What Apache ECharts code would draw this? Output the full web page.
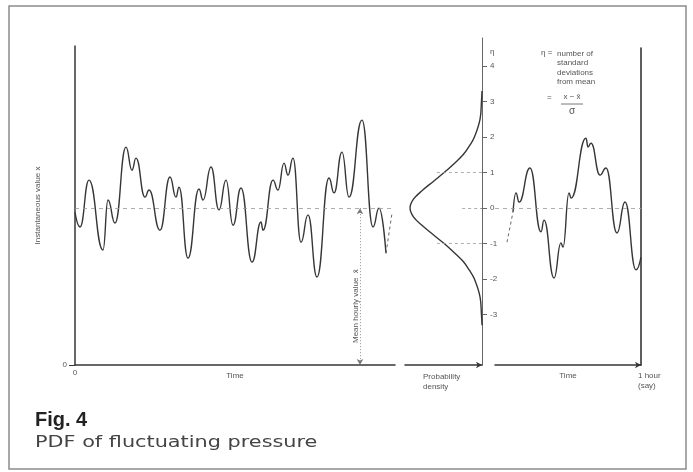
<!DOCTYPE html>
<html><head><meta charset="utf-8">
<script src="https://cdn.jsdelivr.net/npm/echarts@6/dist/echarts.min.js"></script>
<style>html,body{margin:0;padding:0;background:#fff}#c{width:693px;height:472px}</style>
</head><body><div id="c"></div>
<script>
// ---- data (values in units of sigma above x = 0) ----
const leftTime  = [0, 5, 14, 28, 33, 40, 51, 57, 61, 70, 74, 85, 95, 101, 104, 113, 124, 128, 136, 144, 151, 158, 166, 177, 186, 188, 198, 203, 209, 213, 218, 226, 233, 242, 254, 259, 267, 274, 287, 298, 304, 311];
const leftValue = [4.30, 3.89, 5.21, 3.24, 4.65, 4.00, 6.14, 5.49, 5.83, 4.73, 4.93, 3.80, 5.30, 4.73, 5.01, 3.01, 4.96, 4.65, 5.58, 4.37, 5.21, 3.94, 4.99, 2.90, 4.03, 3.80, 5.21, 4.93, 5.69, 5.35, 5.83, 3.46, 4.23, 2.48, 5.27, 4.85, 6.00, 4.73, 6.90, 3.89, 4.42, 3.15];
const leftTailTime  = [311, 317];
const leftTailValue = [3.15, 4.28];

const rightHeadTime  = [12, 18];
const rightHeadValue = [3.46, 4.31];
const rightTime  = [18, 21, 24, 35, 46, 49, 59, 66, 68, 74, 76, 91, 93, 96, 105, 111, 122, 130, 141, 146];
const rightValue = [4.31, 4.85, 4.59, 5.55, 3.75, 4.08, 2.45, 3.44, 3.32, 4.85, 4.70, 6.39, 6.14, 6.25, 5.35, 5.55, 3.72, 4.59, 2.68, 3.04];

const pdfEta     = [-3.3, -3, -2.5, -2, -1.75, -1.5, -1.25, -1, -0.75, -0.5, -0.25, 0, 0.25, 0.5, 0.75, 1, 1.25, 1.5, 1.75, 2, 2.5, 3, 3.3];
const pdfDensity = [0, 0.003, 0.011, 0.042, 0.07, 0.105, 0.155, 0.21, 0.27, 0.33, 0.38, 0.399, 0.38, 0.33, 0.27, 0.21, 0.155, 0.105, 0.07, 0.042, 0.011, 0.003, 0];

const etaTicks = [-3, -2, -1, 0, 1, 2, 3, 4];
const meanLevel = 4.42;      // mean hourly value x̄, in sigma units above 0
const meanArrowTime = 285;   // where the "mean hourly value" arrow stands
const hourEnd = 146;

const INK = '#363636';
const FONT = 'Liberation Sans, Arial, sans-serif';
const small = {fontSize: 8, color: '#555', fontFamily: FONT};

const chart = echarts.init(document.getElementById('c'));
const zip = (a, b) => a.map((v, i) => [v, b[i]]);

chart.setOption({
  animation: false,
  backgroundColor: '#fff',
  grid: [
    {left: 75, top: 46, width: 320, height: 319},
    {left: 405, top: 38, width: 77, height: 327},
    {left: 495, top: 48, width: 146, height: 317}
  ],
  xAxis: [
    {gridIndex: 0, type: 'value', min: 0, max: 320,
     axisLine: {onZero: false, lineStyle: {color: INK, width: 1.5}},
     axisTick: {show: false}, splitLine: {show: false},
     axisLabel: Object.assign({customValues: [0], margin: 4}, small),
     name: 'Time', nameLocation: 'middle', nameGap: 7, nameMoveOverlap: false, nameTextStyle: small},
    {gridIndex: 1, type: 'value', min: 0, max: 0.427, inverse: true,
     axisLine: {onZero: false, lineStyle: {color: INK, width: 1.5}, symbol: ['none', 'arrow'], symbolSize: [5, 6]},
     axisTick: {show: false}, splitLine: {show: false}, axisLabel: {show: false}},
    {gridIndex: 2, type: 'value', min: 0, max: hourEnd,
     axisLine: {onZero: false, lineStyle: {color: INK, width: 1.5}, symbol: ['none', 'arrow'], symbolSize: [5, 6]},
     axisTick: {show: false}, splitLine: {show: false},
     axisLabel: Object.assign({customValues: [hourEnd], margin: 6, align: 'left', lineHeight: 10,
       padding: [0, 0, 0, -3], formatter: () => '1 hour\n(say)'}, small),
     name: 'Time', nameLocation: 'middle', nameGap: 7, nameMoveOverlap: false, nameTextStyle: small}
  ],
  yAxis: [
    {gridIndex: 0, type: 'value', min: 0, max: 8.99,
     axisLine: {show: true, onZero: false, lineStyle: {color: INK, width: 1.5}},
     axisTick: {show: true, customValues: [0], length: 6, lineStyle: {color: INK}},
     axisLabel: Object.assign({customValues: [0], margin: 8}, small),
     splitLine: {show: false},
     name: 'Instantaneous value x', nameLocation: 'middle', nameGap: 33, nameRotate: 90, nameMoveOverlap: false, nameTextStyle: small},
    {gridIndex: 1, type: 'value', min: -4.42, max: 4.79, position: 'right',
     axisLine: {show: true, onZero: false, lineStyle: {color: '#666', width: 1}},
     axisTick: {show: true, customValues: etaTicks, length: 5, lineStyle: {color: '#666'}},
     axisLabel: Object.assign({customValues: etaTicks, margin: 8}, small),
     splitLine: {show: false},
     name: 'η', nameLocation: 'end', nameGap: -18, nameMoveOverlap: false,
     nameTextStyle: Object.assign({align: 'left', padding: [0, 0, 0, 8]}, small)},
    {gridIndex: 2, type: 'value', min: 0, max: 8.93, position: 'right',
     axisLine: {show: true, onZero: false, lineStyle: {color: INK, width: 1.6}},
     axisTick: {show: false}, axisLabel: {show: false}, splitLine: {show: false}}
  ],
  series: [
    {type: 'line', xAxisIndex: 0, yAxisIndex: 0, data: zip(leftTime, leftValue),
     smooth: 0.5, smoothMonotone: 'x', showSymbol: false, lineStyle: {color: INK, width: 1.4},
     markLine: {silent: true, symbol: 'none', label: {show: false},
       lineStyle: {type: [4, 4], color: '#9a9a9a', width: 0.8},
       data: [{yAxis: meanLevel}]}},
    {type: 'line', xAxisIndex: 0, yAxisIndex: 0, data: zip(leftTailTime, leftTailValue),
     showSymbol: false, lineStyle: {color: '#666', width: 1, type: [3, 3]},
     markLine: {silent: true, symbol: ['arrow', 'arrow'], symbolSize: [5, 6], label: {show: false},
       lineStyle: {type: [1, 2], color: '#777', width: 0.8},
       data: [[{coord: [meanArrowTime, meanLevel]}, {coord: [meanArrowTime, 0]}]]}},
    {type: 'line', xAxisIndex: 1, yAxisIndex: 1, data: zip(pdfDensity, pdfEta),
     smooth: 0.4, showSymbol: false, lineStyle: {color: INK, width: 1.4},
     markLine: {silent: true, symbol: 'none', label: {show: false},
       lineStyle: {type: [3, 3], color: '#9a9a9a', width: 0.8},
       data: [
         [{coord: [0.11, 0]}, {coord: [0, 0]}],
         [{coord: [0.25, 1]}, {coord: [0, 1]}],
         [{coord: [0.25, -1]}, {coord: [0, -1]}]
       ]}},
    {type: 'line', xAxisIndex: 2, yAxisIndex: 2, data: zip(rightHeadTime, rightHeadValue),
     showSymbol: false, lineStyle: {color: '#666', width: 1, type: [3, 3]}},
    {type: 'line', xAxisIndex: 2, yAxisIndex: 2, data: zip(rightTime, rightValue),
     smooth: 0.5, smoothMonotone: 'x', showSymbol: false, lineStyle: {color: INK, width: 1.4},
     markLine: {silent: true, symbol: 'none', label: {show: false},
       lineStyle: {type: [4, 4], color: '#9a9a9a', width: 0.8},
       data: [{yAxis: meanLevel}]}}
  ],
  graphic: [
    {type: 'rect', shape: {x: 9, y: 6, width: 677, height: 463}, style: {fill: 'none', stroke: '#8c8c8c', lineWidth: 1.5}, silent: true},
    {type: 'text', x: 35, y: 410, style: {text: 'Fig. 4', font: 'bold 20px ' + FONT, fill: '#222'}},
    {type: 'text', x: 35, y: 435, scaleX: 1.3, style: {text: 'PDF of fluctuating pressure', font: '16px DejaVu Sans, sans-serif', fill: '#444'}},
    {type: 'text', x: 423, y: 372, style: {text: 'Probability\ndensity', font: '8px ' + FONT, fill: '#555', lineHeight: 10}},
    {type: 'text', x: 352, y: 343, rotation: Math.PI / 2, style: {text: 'Mean hourly value  x̄', font: '8px ' + FONT, fill: '#555'}},
    {type: 'text', x: 541, y: 49, style: {text: 'η =', font: '8px ' + FONT, fill: '#555'}},
    {type: 'text', x: 557, y: 49, style: {text: 'number of\nstandard\ndeviations\nfrom mean', font: '8px ' + FONT, fill: '#555', lineHeight: 9.5}},
    {type: 'text', x: 547, y: 94, style: {text: '=', font: '8px ' + FONT, fill: '#555'}},
    {type: 'text', x: 572, y: 93, style: {text: 'x − x̄', font: '8px ' + FONT, fill: '#555', align: 'center'}},
    {type: 'line', shape: {x1: 561, y1: 104, x2: 583, y2: 104}, style: {stroke: '#555', lineWidth: 0.8}},
    {type: 'text', x: 572, y: 106, style: {text: 'σ', font: '10px ' + FONT, fill: '#555', align: 'center'}}
  ]
});
</script>
</body></html>
